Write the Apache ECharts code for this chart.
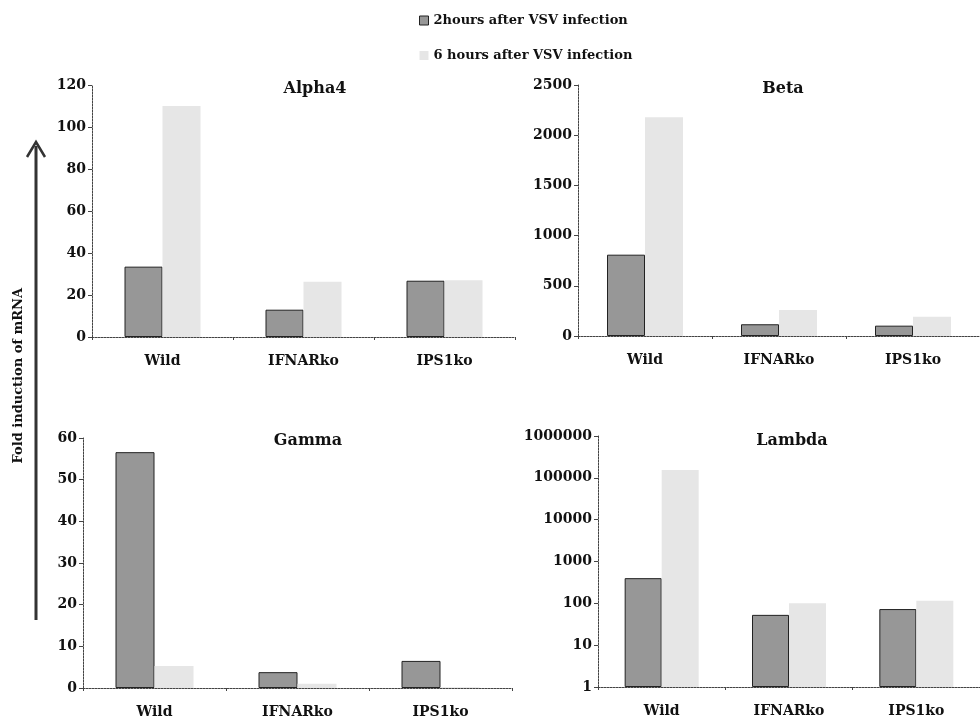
<!DOCTYPE html>
<html>
<head>
<meta charset="utf-8">
<script src="https://cdn.jsdelivr.net/npm/echarts@6/dist/echarts.min.js"></script>
<style>
html,body{margin:0;padding:0;background:#fff;}
#c{width:980px;height:723px;}
</style>
</head>
<body>
<div id="c"></div>
<script>
const categories = ['Wild', 'IFNARko', 'IPS1ko'];
const seriesNames = ['2hours after VSV infection', '6 hours after VSV infection'];
const panelTitles = ['Alpha4', 'Beta', 'Gamma', 'Lambda'];
const alpha4_2h = [33.5, 13, 26.8];
const alpha4_6h = [110, 26.3, 27];
const beta_2h = [810, 117, 103];
const beta_6h = [2180, 259, 192];
const gamma_2h = [56.6, 3.8, 6.5];
const gamma_6h = [5.3, 1.0, 0.2];
const lambda_2h = [400, 53, 73];
const lambda_6h = [154000, 101, 115];
const yAxisTitle = 'Fold induction of mRNA';

const FONT = '"DejaVu Serif", "Liberation Serif", serif';
const DARK = '#979797';
const LIGHT = '#e6e6e6';

const grids = [
  {left: 92, top: 85, width: 423, height: 252},
  {left: 578, top: 85, width: 411, height: 251},
  {left: 83, top: 438, width: 429, height: 250},
  {left: 598, top: 436, width: 390, height: 251}
];
const barWidths = [38, 38, 39, 37];
const yConf = [
  {type: 'value', min: 0, max: 120, interval: 20},
  {type: 'value', min: 0, max: 2500, interval: 500},
  {type: 'value', min: 0, max: 60, interval: 10},
  {type: 'log', logBase: 10, min: 1, max: 1000000, interval: 1}
];
const data2h = [alpha4_2h, beta_2h, gamma_2h, lambda_2h];
const data6h = [alpha4_6h, beta_6h, gamma_6h, lambda_6h];

const axisLine = {show: true, lineStyle: {color: '#444', width: 1, type: [2, 1]}};
const labelStyle = {color: '#111', fontFamily: FONT, fontWeight: 'bold', fontSize: 14};

const xAxes = grids.map((g, i) => ({
  type: 'category', gridIndex: i, data: categories,
  axisLine: axisLine,
  axisTick: {show: true, length: 3, lineStyle: {color: '#444'}},
  axisLabel: Object.assign({margin: 17}, labelStyle)
}));
const yAxes = yConf.map((c, i) => Object.assign({
  gridIndex: i,
  axisLine: axisLine,
  axisTick: {show: true, length: 4, lineStyle: {color: '#444'}},
  splitLine: {show: false},
  axisLabel: Object.assign({margin: 6, formatter: v => String(Math.round(v))}, labelStyle)
}, c));

const series = [];
for (let i = 0; i < 4; i++) {
  series.push({
    name: seriesNames[0], type: 'bar', xAxisIndex: i, yAxisIndex: i,
    data: data2h[i], barWidth: barWidths[i], barGap: '0%',
    itemStyle: {color: DARK, borderColor: '#222', borderWidth: 1},
    animation: false
  });
  series.push({
    name: seriesNames[1], type: 'bar', xAxisIndex: i, yAxisIndex: i,
    data: data6h[i], barWidth: barWidths[i], barGap: '0%',
    itemStyle: {color: LIGHT},
    animation: false
  });
}

const titlePos = [[310, 76], [778, 76], [303, 428], [787, 428]];
const titles = panelTitles.map((t, i) => ({
  text: t, left: titlePos[i][0], top: titlePos[i][1], textAlign: 'center',
  textStyle: {fontFamily: FONT, fontWeight: 'bold', fontSize: 16, color: '#111'}
}));

const chart = echarts.init(document.getElementById('c'));
chart.setOption({
  animation: false,
  backgroundColor: '#fff',
  title: titles,
  legend: {
    orient: 'vertical', left: 414, top: 9, itemGap: 22,
    itemWidth: 9, itemHeight: 9,
    data: [
      {name: seriesNames[0], icon: 'rect', itemStyle: {color: DARK, borderColor: '#222', borderWidth: 1}},
      {name: seriesNames[1], icon: 'rect', itemStyle: {color: LIGHT}}
    ],
    textStyle: {fontFamily: FONT, fontWeight: 'bold', fontSize: 13, color: '#111'}
  },
  grid: grids,
  xAxis: xAxes,
  yAxis: yAxes,
  series: series,
  graphic: [
    {type: 'line', shape: {x1: 36, y1: 146, x2: 36, y2: 620}, style: {stroke: '#333', lineWidth: 3}},
    {type: 'polyline', shape: {points: [[27, 157], [36, 142], [45, 157]]}, style: {stroke: '#333', lineWidth: 2.5, fill: null}},
    {type: 'text', left: 12, top: 288, rotation: Math.PI / 2,
     style: {text: yAxisTitle, font: 'bold 13px ' + FONT, fill: '#111'}}
  ]
});
</script>
</body>
</html>
